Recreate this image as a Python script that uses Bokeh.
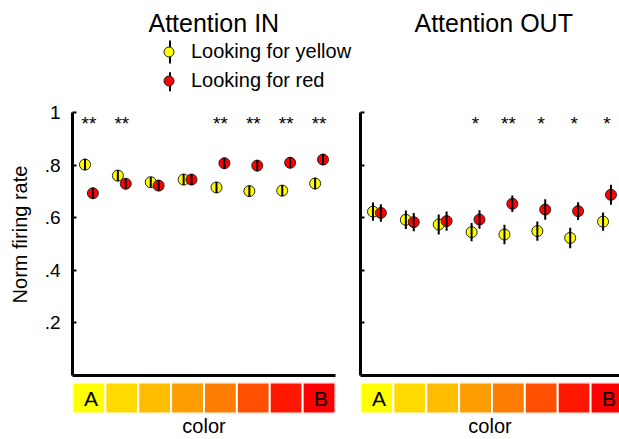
from bokeh.plotting import figure
from bokeh.models import Range1d, FixedTicker, Legend, LegendItem, ColumnDataSource
from bokeh.layouts import row, column
from bokeh.embed import file_html
from bokeh.resources import INLINE
from bokeh.core.properties import value

# ---------------- data ----------------
categories = [1, 2, 3, 4, 5, 6, 7, 8]
strip_colors = ["#FFFF00", "#FFDA00", "#FFBC00", "#FF9E00",
                "#FF7D00", "#FF4F00", "#FF1700", "#FF0000"]
strip_labels = ["A", "", "", "", "", "", "", "B"]

in_yellow = [0.802, 0.760, 0.735, 0.745, 0.715, 0.701, 0.703, 0.730]
in_yellow_err = [0.022, 0.021, 0.020, 0.021, 0.021, 0.021, 0.021, 0.022]
in_red = [0.693, 0.729, 0.722, 0.745, 0.807, 0.798, 0.809, 0.821]
in_red_err = [0.021, 0.020, 0.020, 0.021, 0.021, 0.021, 0.021, 0.021]
in_sig = ["**", "**", "", "", "**", "**", "**", "**"]

out_yellow = [0.623, 0.592, 0.574, 0.545, 0.536, 0.549, 0.523, 0.585]
out_yellow_err = [0.035, 0.035, 0.038, 0.035, 0.037, 0.037, 0.039, 0.035]
out_red = [0.618, 0.583, 0.587, 0.593, 0.653, 0.631, 0.625, 0.687]
out_red_err = [0.033, 0.035, 0.037, 0.035, 0.031, 0.039, 0.034, 0.038]
out_sig = ["", "", "", "*", "**", "*", "*", "*"]

series_labels = ["Looking for yellow", "Looking for red"]
series_colors = ["#FFFF00", "#FF0000"]

y_ticks = [0.2, 0.4, 0.6, 0.8, 1]
y_tick_labels = [".2", ".4", ".6", ".8", "1"]
y_label = "Norm firing rate"
x_label = "color"

FONT = "Liberation Sans"
DODGE = 0.12
STAR_Y = 0.957
MARKER_LINE = "#222222"


def series_sources(yellow, yerr, red, rerr):
    ysrc = ColumnDataSource(dict(
        x=[c - DODGE for c in categories], y=yellow,
        lo=[v - e for v, e in zip(yellow, yerr)],
        hi=[v + e for v, e in zip(yellow, yerr)]))
    rsrc = ColumnDataSource(dict(
        x=[c + DODGE for c in categories], y=red,
        lo=[v - e for v, e in zip(red, rerr)],
        hi=[v + e for v, e in zip(red, rerr)]))
    return ysrc, rsrc


def header(title, left_border, width, title_offset, sources=None):
    # Title strip. Its frame is measured in pixels (offset far away from the
    # data, so that only the legend swatches of the series show here).
    fw, fh = width - left_border, 55
    hx0, hy0 = -1000.0, -1000.0
    h = figure(width=width, height=93, output_backend="svg",
               toolbar_location=None, x_range=Range1d(hx0, hx0 + fw),
               y_range=Range1d(hy0, hy0 + fh),
               min_border_left=left_border, min_border_right=0,
               min_border_top=38, min_border_bottom=0, title=title)
    h.outline_line_color = None
    h.grid.visible = False
    h.xaxis.visible = False
    h.yaxis.visible = False
    h.title.text_font = FONT
    h.title.text_font_size = "25px"
    h.title.text_font_style = "normal"
    h.title.text_color = "black"
    h.title.align = "left"
    h.title.offset = title_offset
    h.title.standoff = 4
    if sources is not None:
        items = []
        for lab, col, src in zip(series_labels, series_colors, sources):
            c = h.scatter("x", "y", source=src, marker="circle", size=11,
                          fill_color=col, line_color=MARKER_LINE, line_width=1)
            items.append(LegendItem(label=lab, renderers=[c]))
        legend = Legend(items=items, location=(84, 0))
        legend.margin = 0
        legend.padding = 0
        legend.spacing = 4
        legend.glyph_width = 25
        legend.glyph_height = 25
        legend.label_standoff = 10
        legend.label_text_font = FONT
        legend.label_text_font_size = "20px"
        legend.label_text_color = "black"
        legend.border_line_color = None
        legend.background_fill_alpha = 0
        h.add_layout(legend, "center")
        # vertical error-bar stroke through each legend swatch (pixels)
        swatch_x = 97.5
        bar_lo = [30.0, 2.3]
        bar_hi = [53.0, 21.3]
        h.segment(x0=[hx0 + swatch_x] * 2, y0=[hy0 + v for v in bar_lo],
                  x1=[hx0 + swatch_x] * 2, y1=[hy0 + v for v in bar_hi],
                  line_color="black", line_width=2, level="overlay")
    return h


def body(sources, sig, x_end, left_border, width, right_gap, show_labels):
    ysrc, rsrc = sources
    p = figure(width=width, height=289, x_range=Range1d(0.5, x_end),
               y_range=Range1d(0, 1.0722), output_backend="svg",
               toolbar_location=None, min_border_left=left_border,
               min_border_right=right_gap, min_border_top=0,
               min_border_bottom=7)
    p.outline_line_color = None
    p.grid.visible = False

    p.xaxis.ticker = FixedTicker(ticks=[])
    p.xaxis.major_label_text_font_size = "0px"
    p.xaxis.major_tick_line_color = None
    p.xaxis.minor_tick_line_color = None
    p.xaxis.axis_line_width = 3
    p.xaxis.axis_line_color = "black"

    p.yaxis.ticker = FixedTicker(ticks=y_ticks)
    p.yaxis.bounds = (0, 1)
    p.yaxis.axis_line_width = 3
    p.yaxis.axis_line_color = "black"
    p.yaxis.major_tick_in = 4
    p.yaxis.major_tick_out = 0
    p.yaxis.major_tick_line_width = 2
    p.yaxis.minor_tick_line_color = None
    if show_labels:
        p.yaxis.major_label_overrides = dict(zip(y_ticks, y_tick_labels))
        p.yaxis.major_label_text_font = FONT
        p.yaxis.major_label_text_font_size = "19px"
        p.yaxis.major_label_text_color = "black"
        p.yaxis.major_label_standoff = 12
        p.yaxis.axis_label = y_label
        p.yaxis.axis_label_text_font = FONT
        p.yaxis.axis_label_text_font_size = "20px"
        p.yaxis.axis_label_text_font_style = "normal"
        p.yaxis.axis_label_text_color = "black"
        p.yaxis.axis_label_standoff = 11
    else:
        p.yaxis.major_label_overrides = {t: "" for t in y_ticks}
        p.yaxis.major_label_standoff = 0

    p.scatter("x", "y", source=ysrc, size=11, marker="circle",
              fill_color=series_colors[0], line_color=MARKER_LINE, line_width=1)
    p.segment(x0="x", y0="lo", x1="x", y1="hi", source=ysrc,
              line_color="black", line_width=2)
    p.scatter("x", "y", source=rsrc, size=11, marker="circle",
              fill_color=series_colors[1], line_color=MARKER_LINE, line_width=1)
    p.segment(x0="x", y0="lo", x1="x", y1="hi", source=rsrc,
              line_color="black", line_width=2)

    p.text(x=categories, y=[STAR_Y] * len(categories), text=sig,
           text_align="center", text_baseline="middle",
           text_font=value(FONT), text_font_size="19px", text_color="black")

    s = figure(width=width, height=57, x_range=p.x_range, y_range=Range1d(0, 1),
               output_backend="svg", toolbar_location=None,
               min_border_left=left_border, min_border_right=right_gap,
               min_border_top=0, min_border_bottom=26)
    s.outline_line_color = None
    s.grid.visible = False
    s.yaxis.visible = False
    s.xaxis.ticker = FixedTicker(ticks=[])
    s.xaxis.major_label_text_font_size = "0px"
    s.xaxis.major_tick_line_color = None
    s.xaxis.minor_tick_line_color = None
    s.xaxis.axis_line_color = None
    s.xaxis.major_label_standoff = 0
    s.xaxis.major_tick_out = 0
    s.xaxis.axis_label = x_label
    s.xaxis.axis_label_text_font = FONT
    s.xaxis.axis_label_text_font_size = "20px"
    s.xaxis.axis_label_text_font_style = "normal"
    s.xaxis.axis_label_text_color = "black"
    s.xaxis.axis_label_standoff = 1
    s.rect(x=categories, y=0.5, width=1, height=1, fill_color=strip_colors,
           line_color="white", line_width=2)
    s.text(x=categories, y=0.5, text=strip_labels, x_offset=2,
           text_align="center", text_baseline="middle",
           text_font=value(FONT), text_font_size="21px", text_color="black")
    return column(p, s, spacing=0)


in_src = series_sources(in_yellow, in_yellow_err, in_red, in_red_err)
out_src = series_sources(out_yellow, out_yellow_err, out_red, out_red_err)

h_left = header("Attention IN", 72, 358, 76, sources=in_src)
h_right = header("Attention OUT", 2, 261, 54)
b_left = body(in_src, in_sig, 8.5, 72, 358, 23, True)
b_right = body(out_src, out_sig, 8.38, 2, 261, 0, False)

layout = column(row(h_left, h_right, spacing=0),
                row(b_left, b_right, spacing=0), spacing=0)
open("out.html", "w").write(file_html(layout, INLINE))
